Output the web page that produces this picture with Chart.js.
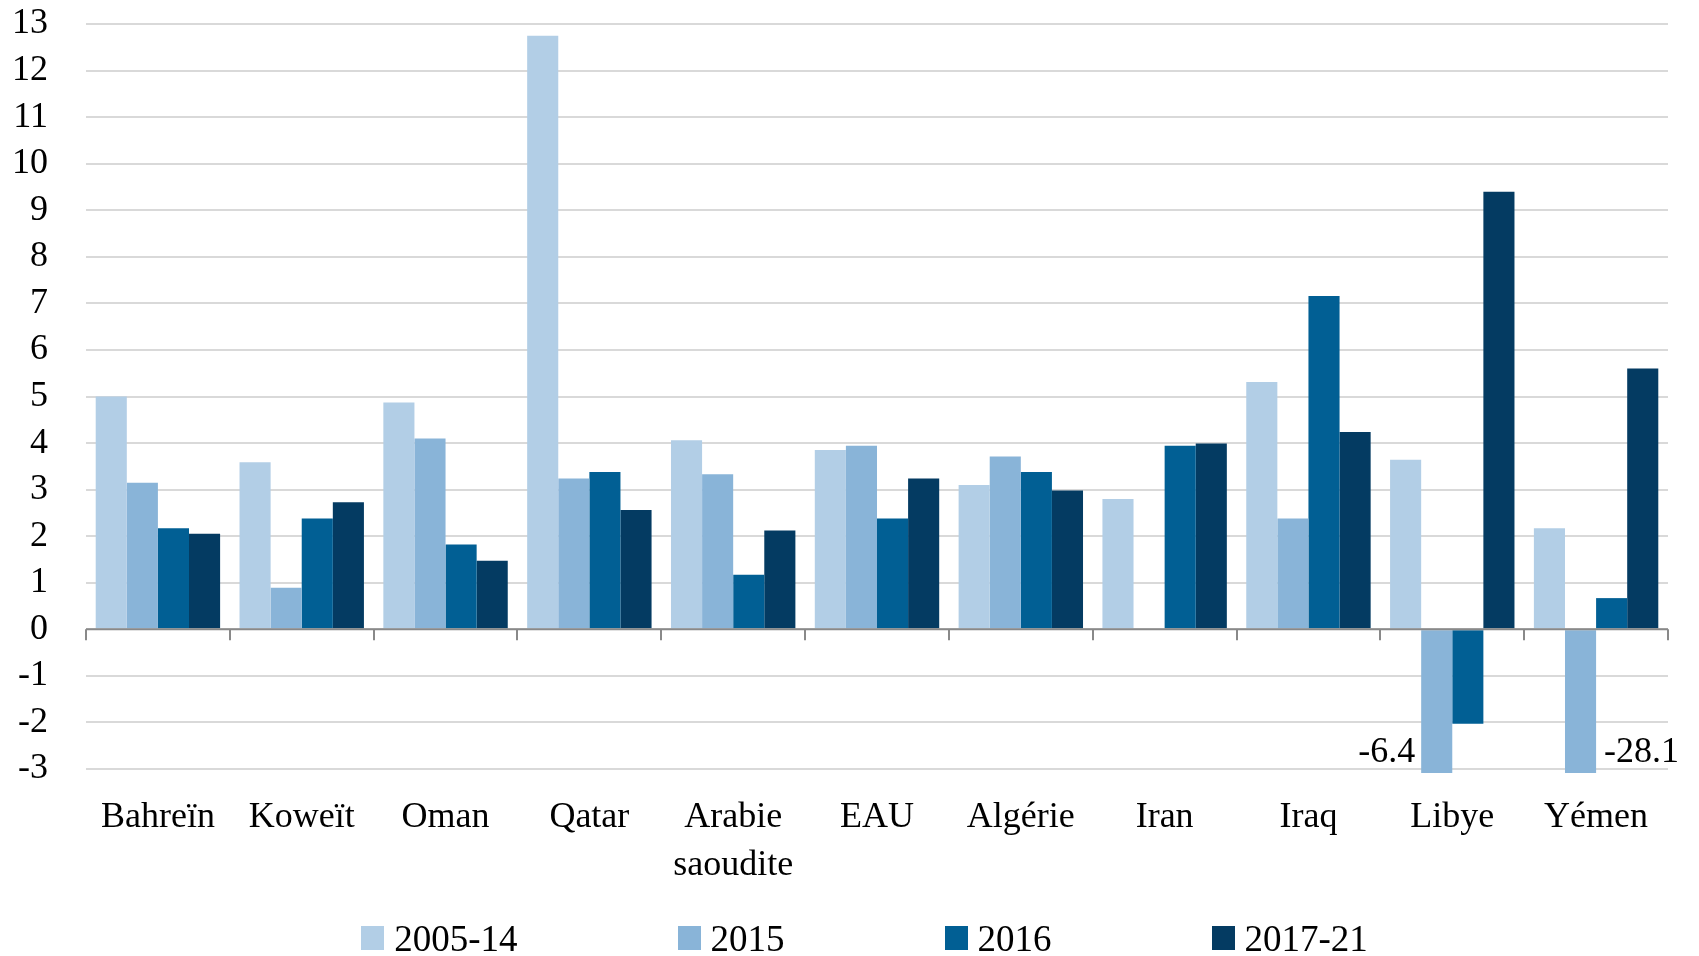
<!DOCTYPE html>
<html>
<head>
<meta charset="utf-8">
<script src="https://cdn.jsdelivr.net/npm/chart.js@4.4.1/dist/chart.umd.min.js"></script>
<style>
  body { margin: 0; background: #fff; }
  #wrap { position: relative; width: 1699px; height: 956px; }
  #legend {
    position: absolute; left: 30px; right: 0; top: 920px; height: 36px;
    display: flex; justify-content: center; align-items: center; gap: 160px;
    font-family: "Liberation Serif", serif; font-size: 37px; color: #000;
  }
  .item { display: flex; align-items: center; }
  .box { width: 23px; height: 24px; margin-right: 10px; }
</style>
</head>
<body>
<div id="wrap">
  <canvas id="chart" width="1699" height="956"></canvas>
  <div id="legend"></div>
</div>
<script>
// Data
const categories = ['Bahreïn', 'Koweït', 'Oman', 'Qatar', ['Arabie', 'saoudite'], 'EAU', 'Algérie', 'Iran', 'Iraq', 'Libye', 'Yémen'];
const seriesLabels = ['2005-14', '2015', '2016', '2017-21'];
const values2005_14 = [5.0, 3.59, 4.87, 12.75, 4.06, 3.85, 3.10, 2.80, 5.31, 3.64, 2.17];
const values2015 = [3.15, 0.89, 4.10, 3.24, 3.33, 3.94, 3.71, null, 2.38, -6.4, -28.1];
const values2016 = [2.17, 2.38, 1.82, 3.38, 1.17, 2.38, 3.38, 3.94, 7.16, -2.03, 0.67];
const values2017_21 = [2.05, 2.73, 1.47, 2.56, 2.12, 3.24, 2.98, 3.99, 4.24, 9.40, 5.60];
const yMin = -3, yMax = 13, yStep = 1;

const colors = ['#b2cee6', '#89b4d8', '#015f94', '#043b62'];
const seriesValues = [values2005_14, values2015, values2016, values2017_21];
const font = { family: '"Liberation Serif", serif', size: 36, lineHeight: 1.34 };

// zero line, category ticks, and labels for bars cut at the bottom
const zeroLinePlugin = {
  id: 'zeroLine',
  afterDatasetsDraw(chart) {
    const { ctx, chartArea, scales: { x, y } } = chart;
    const y0 = y.getPixelForValue(0);
    const step = (chartArea.right - chartArea.left) / categories.length;
    ctx.save();
    ctx.strokeStyle = '#898989';
    ctx.lineWidth = 2;
    ctx.beginPath();
    ctx.moveTo(chartArea.left, y0);
    ctx.lineTo(chartArea.right, y0);
    for (let i = 0; i <= categories.length; i++) {
      const px = Math.round(chartArea.left + i * step);
      ctx.moveTo(px, y0);
      ctx.lineTo(px, y0 + 11);
    }
    ctx.stroke();

    ctx.fillStyle = '#000';
    ctx.font = '36px "Liberation Serif", serif';
    ctx.textBaseline = 'middle';
    chart.data.datasets.forEach((ds, d) => {
      ds.data.forEach((v, i) => {
        if (v === null || v >= yMin) return;
        const bar = chart.getDatasetMeta(d).data[i];
        const next = chart.data.datasets[d + 1];
        const leftSide = next && next.data[i] !== null && next.data[i] < 0;
        ctx.textAlign = leftSide ? 'right' : 'left';
        const tx = leftSide ? bar.x - bar.width / 2 - 6 : bar.x + bar.width / 2 + 8;
        ctx.fillText(String(v), tx, chartArea.bottom - 16);
      });
    });
    ctx.restore();
  }
};

const ctx = document.getElementById('chart').getContext('2d');
const chart = new Chart(ctx, {
  type: 'bar',
  data: {
    labels: categories,
    datasets: seriesLabels.map((label, i) => ({
      label: label,
      data: seriesValues[i],
      backgroundColor: colors[i],
      borderWidth: 0,
      categoryPercentage: 0.865,
      barPercentage: 1,
      clip: { left: 0, top: 0, right: 0, bottom: 4 }
    }))
  },
  options: {
    responsive: false,
    devicePixelRatio: 1,
    animation: false,
    layout: { padding: { top: 24, right: 31, bottom: 67, left: 0 } },
    plugins: {
      legend: { display: false },
      tooltip: { enabled: false }
    },
    scales: {
      x: {
        grid: { display: false, drawTicks: false, tickLength: 0 },
        border: { display: false },
        ticks: { font: font, color: '#000', padding: 24, maxRotation: 0, autoSkip: false },
        afterFit(scale) {
          scale.height = 120;
          scale.paddingLeft = 0;
          scale.paddingRight = 0;
        }
      },
      y: {
        min: yMin,
        max: yMax,
        grid: { color: '#d9d9d9', lineWidth: 2, drawTicks: false, tickLength: 0 },
        border: { display: false },
        ticks: { stepSize: yStep, font: font, color: '#000', padding: 38, autoSkip: false },
        afterFit(scale) {
          scale.width = 86;
          scale.paddingTop = 0;
          scale.paddingBottom = 0;
        }
      }
    }
  },
  plugins: [zeroLinePlugin]
});

// HTML legend built from the datasets
const legend = document.getElementById('legend');
chart.data.datasets.forEach(ds => {
  const item = document.createElement('div');
  item.className = 'item';
  item.innerHTML = `<span class="box" style="background:${ds.backgroundColor}"></span><span>${ds.label}</span>`;
  legend.appendChild(item);
});
</script>
</body>
</html>
